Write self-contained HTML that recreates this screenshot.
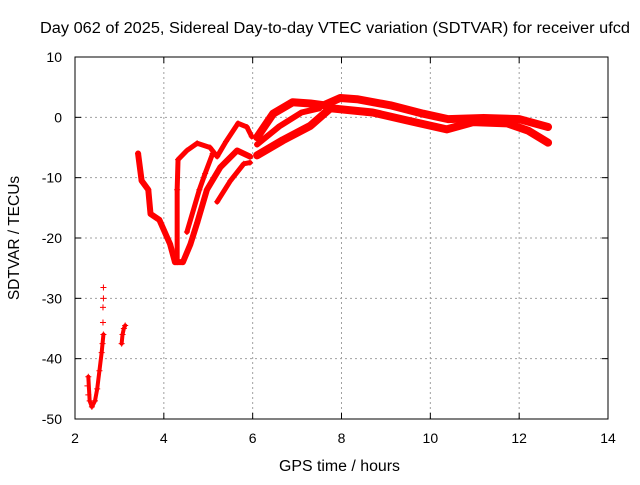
<!DOCTYPE html>
<html><head><meta charset="utf-8"><style>
body{margin:0;background:#fff;}
svg text{font-family:"Liberation Sans",sans-serif;font-size:14px;fill:#000;}
</style></head><body>
<svg id="chart" width="640" height="480">
<text x="40" y="33" textLength="590" lengthAdjust="spacingAndGlyphs" style="font-size:15.5px">Day 062 of 2025, Sidereal Day-to-day VTEC variation (SDTVAR) for receiver ufcd</text>
<text x="279" y="471" textLength="121" lengthAdjust="spacingAndGlyphs" style="font-size:15.5px">GPS time / hours</text>
<text transform="translate(19,238) rotate(-90)" text-anchor="middle" style="font-size:15.5px">SDTVAR / TECUs</text>
<g id="grid"></g><g id="marks"></g>
<rect x="75" y="57" width="533" height="362" fill="none" stroke="#000" stroke-width="1"/>
</svg>
<script>
const xTicks=[2,4,6,8,10,12,14];
const yTicks=[10,0,-10,-20,-30,-40,-50];
const trackA=[[2.3,-43],[2.33,-47],[2.38,-48],[2.45,-47],[2.5,-45],[2.55,-42],[2.6,-39],[2.62,-37.5],[2.64,-36]];
const scatterA=[[2.63,-34],[2.63,-31.5],[2.64,-30],[2.64,-28.2],[2.28,-44.5],[2.3,-46]];
const trackB=[[3.05,-37.5],[3.07,-36],[3.1,-35],[3.13,-34.5]];
const trackC=[[3.42,-6],[3.5,-10.5],[3.65,-12],[3.7,-16],[3.9,-17],[4.14,-21],[4.25,-24],[4.43,-24],[4.6,-21],[4.75,-17.5],[4.97,-12],[5.27,-8.3],[5.65,-5.5],[5.94,-6.5]];
const trackD=[[4.3,-24],[4.3,-12],[4.32,-7],[4.52,-5.5],[4.75,-4.3],[5.04,-5],[5.2,-6.5],[5.4,-4],[5.67,-1],[5.87,-1.6],[5.98,-3.2]];
const trackE=[[4.52,-19],[4.8,-12],[4.93,-9.3],[5.1,-6]];
const trackF=[[5.2,-14],[5.5,-10.5],[5.8,-7.7],[5.94,-7.5]];
const trackG=[[6.1,-3.3],[6.46,0.6],[6.9,2.5],[7.3,2.3],[7.6,2],[7.97,3.2],[8.35,3],[9.1,2],[9.84,0.6],[10.4,-0.3],[11.2,-0.1],[12.0,-0.3],[12.65,-1.6]];
const trackH=[[6.1,-6.3],[6.68,-3.8],[7.3,-1.4],[7.75,1.5],[8.7,0.8],[9.47,-0.5],[10.37,-2],[10.96,-0.8],[11.73,-1],[12.2,-2.2],[12.65,-4.2]];
const trackI=[[6.1,-4.5],[6.6,-1.5],[7.1,0.8],[7.5,1.5]];
const X=h=>75+(h-2)*533/12, Y=v=>57+(10-v)*362/60;
const ns="http://www.w3.org/2000/svg";
const grid=document.getElementById('grid'),marks=document.getElementById('marks'),svg=document.getElementById('chart');
function mk(tag,a,p){const e=document.createElementNS(ns,tag);for(const k in a)e.setAttribute(k,a[k]);p.appendChild(e);return e;}
xTicks.forEach(t=>{const x=X(t);
 if(t>2&&t<14){const l=mk('line',{x1:x,x2:x,y1:57,y2:419,stroke:'#a0a0a0','stroke-dasharray':'2,3'},grid);
 
 }
 mk('line',{x1:x,x2:x,y1:419,y2:413,stroke:'#000'},grid);mk('line',{x1:x,x2:x,y1:57,y2:63,stroke:'#000'},grid);
 const tx=mk('text',{x:x,y:443,'text-anchor':'middle'},svg);tx.textContent=t;
 
 });
yTicks.forEach(t=>{const y=Y(t);
 if(t<10&&t>-50){const l=mk('line',{x1:75,x2:608,y1:y,y2:y,stroke:'#a0a0a0','stroke-dasharray':'2,3'},grid);
 
 }
 mk('line',{x1:75,x2:81,y1:y,y2:y,stroke:'#000'},grid);mk('line',{x1:608,x2:602,y1:y,y2:y,stroke:'#000'},grid);
 const tx=mk('text',{x:62,y:y+5,'text-anchor':'end'},svg);tx.textContent=t;
 
 });
function plus(h,v){const x=X(h),y=Y(v);mk('path',{d:`M${x-3},${y}h6M${x},${y-3}v6`,stroke:'#f00','stroke-width':1},marks);}
function track(pts,w,name){const p=mk('polyline',{points:pts.map(q=>X(q[0])+','+Y(q[1])).join(' '),fill:'none',stroke:'#f00','stroke-width':w,'stroke-linejoin':'round','stroke-linecap':'round'},marks);
 
 
 pts.forEach(q=>plus(q[0],q[1]));}
track(trackA,4,'series-track-a');track(trackB,4,'series-track-b');
track(trackC,6,'series-track-c');track(trackD,5,'series-track-d');track(trackE,5,'series-track-e');track(trackF,5,'series-track-f');
track(trackG,8,'series-track-g');track(trackH,8,'series-track-h');track(trackI,6,'series-track-i');
scatterA.forEach(q=>plus(q[0],q[1]));
</script>
</body></html>
